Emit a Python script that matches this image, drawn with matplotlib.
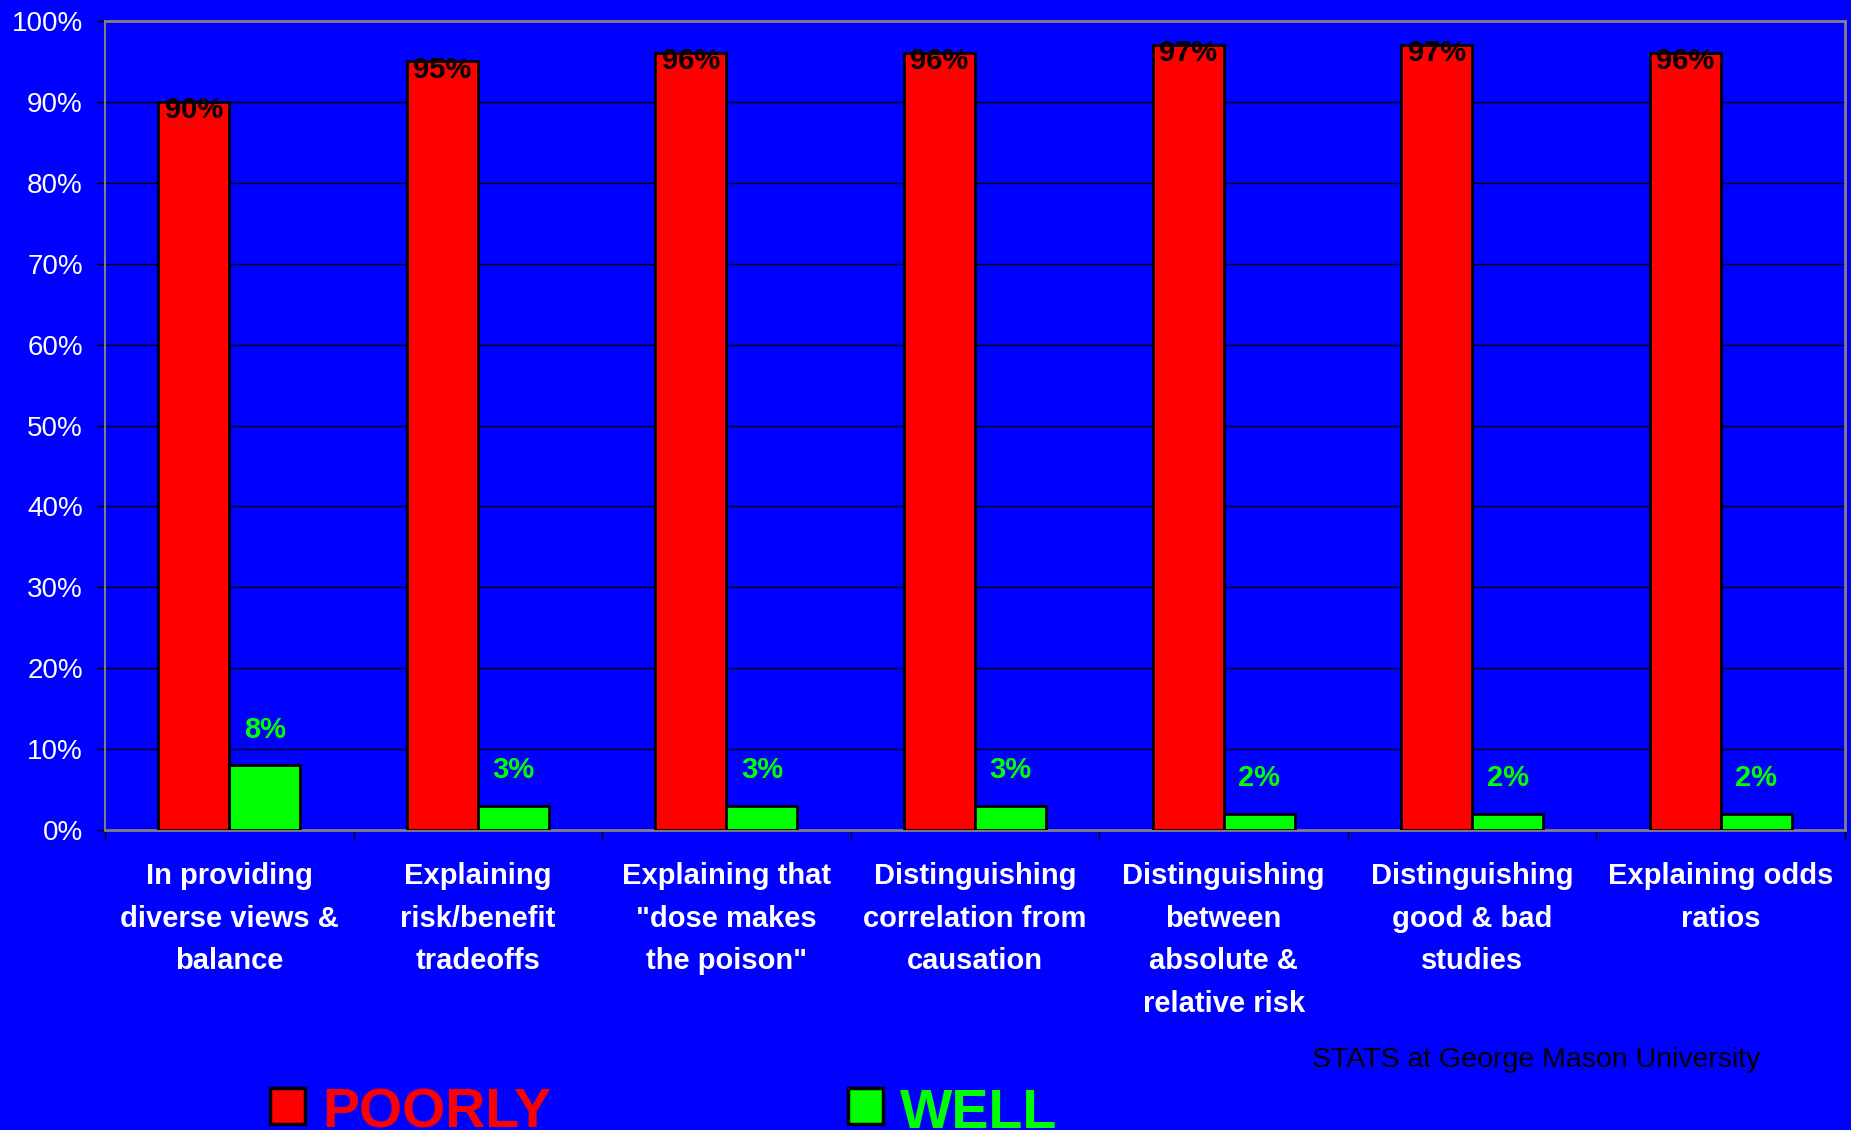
import numpy as np
import matplotlib.pyplot as plt
from matplotlib.patches import Rectangle

plt.rcParams['font.family'] = ['Liberation Sans', 'DejaVu Sans']

# Survey results: how well the media handle each topic
topics = [
    "In providing\ndiverse views &\nbalance",
    "Explaining\nrisk/benefit\ntradeoffs",
    "Explaining that\n\"dose makes\nthe poison\"",
    "Distinguishing\ncorrelation from\ncausation",
    "Distinguishing\nbetween\nabsolute &\nrelative risk",
    "Distinguishing\ngood & bad\nstudies",
    "Explaining odds\nratios",
]
poorly = [90, 95, 96, 96, 97, 97, 96]
well = [8, 3, 3, 3, 2, 2, 2]
yticks = [0, 10, 20, 30, 40, 50, 60, 70, 80, 90, 100]

BLUE = '#0000ff'
RED = '#ff0000'
GREEN = '#00ff00'

fig = plt.figure(figsize=(18.51, 11.30), dpi=100, facecolor=BLUE)
ax = fig.add_axes([105/1851, 1 - 830/1130, 1740/1851, 809/1130])
ax.set_facecolor(BLUE)

x = np.arange(len(topics))
w = 1 / 3.5  # two bars plus a 150% gap
ax.bar(x - w/2, poorly, w, color=RED, edgecolor='black', linewidth=2, zorder=3)
ax.bar(x + w/2, well, w, color=GREEN, edgecolor='black', linewidth=2, zorder=3)

for i in range(len(topics)):
    ax.text(x[i] - w/2, poorly[i] - 1.0, f"{poorly[i]}%", ha='center', va='center',
            fontsize=21, fontweight='bold', color='black', zorder=4)
    ax.text(x[i] + w/2, well[i] + 4.4, f"{well[i]}%", ha='center', va='center',
            fontsize=21, fontweight='bold', color=GREEN, zorder=4)

ax.set_xlim(-0.5, len(topics) - 0.5)
ax.set_ylim(0, 100)
ax.set_yticks(yticks)
ax.set_yticklabels([f"{v}%" for v in yticks], fontsize=20, color='white')
ax.tick_params(axis='y', length=6, width=1, color='black', pad=10)

# category separators as major ticks, names on minor ticks
ax.set_xticks(np.arange(len(topics) + 1) - 0.5)
ax.set_xticklabels([])
ax.tick_params(axis='x', which='major', length=7, width=1, color='black')
ax.set_xticks(x, minor=True)
ax.set_xticklabels(topics, minor=True, fontsize=21, fontweight='bold',
                   color='white', linespacing=1.67, va='top')
ax.tick_params(axis='x', which='minor', length=0, pad=23)

ax.grid(axis='y', color='black', linewidth=1, zorder=0)
for side in ['top', 'right', 'bottom', 'left']:
    ax.spines[side].set_color('#808080')
    ax.spines[side].set_linewidth(2)
ax.spines['left'].set_linewidth(1.5)

fig.text(1312/1851, 1 - 1060/1130, "STATS at George Mason University",
         fontsize=20.5, color='black', ha='left', va='center')

# legend drawn by hand along the bottom edge
for sx, col, label in [(270, RED, "POORLY"), (848, GREEN, "WELL")]:
    fig.patches.append(Rectangle((sx/1851, 1 - 1124/1130), 35/1851, 36/1130,
                                 transform=fig.transFigure, facecolor=col,
                                 edgecolor='black', linewidth=2.5))
    fig.text((sx + 52)/1851, 0.002, label, fontsize=40, fontweight='bold',
             color=col, ha='left', va='baseline')

fig.savefig('out.png', dpi=100, facecolor=BLUE)
